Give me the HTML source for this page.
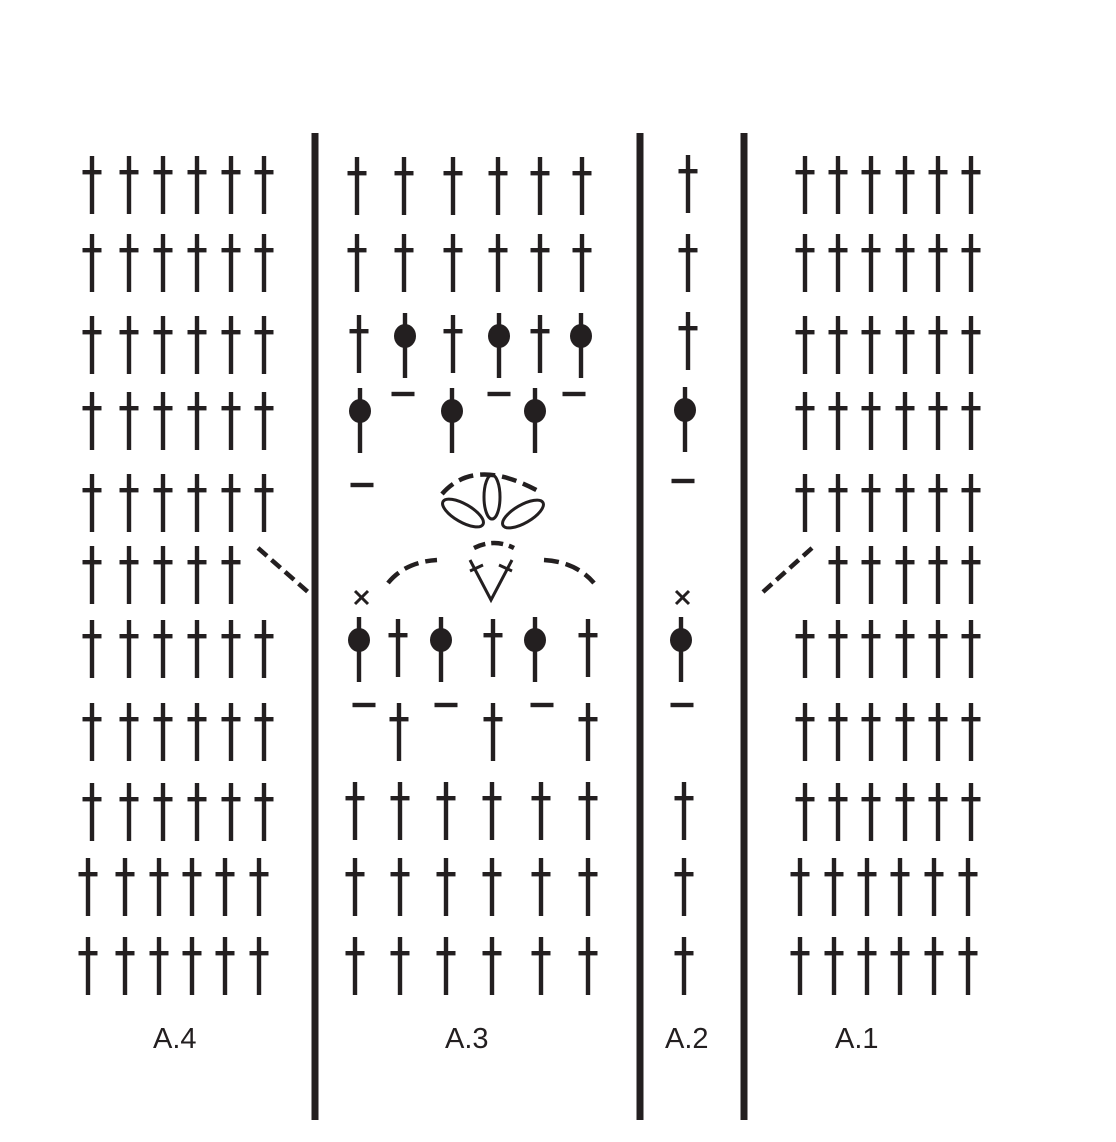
<!DOCTYPE html>
<html><head><meta charset="utf-8">
<style>
html,body{margin:0;padding:0;background:#fff;}
svg{display:block;}
text{font-family:"Liberation Sans",sans-serif;font-size:29px;fill:#231f20;}
</style></head>
<body>
<svg id="s" width="1116" height="1142" viewBox="0 0 1116 1142" xmlns="http://www.w3.org/2000/svg">
<g fill="#231f20" stroke="none" id="g"></g>
<g fill="none" stroke="#231f20" stroke-width="4.5" id="l">
<line x1="315" y1="133" x2="315" y2="1120" stroke-width="7"/>
<line x1="640" y1="133" x2="640" y2="1120" stroke-width="7"/>
<line x1="744" y1="133" x2="744" y2="1120" stroke-width="7"/>
<line x1="258" y1="548" x2="308" y2="592" stroke-dasharray="12,6"/>
<line x1="763" y1="592" x2="812" y2="548" stroke-dasharray="12,6"/>
<path d="M442,494 Q475,456 540,492" stroke-dasharray="15,7"/>
<ellipse cx="492" cy="497" rx="8" ry="22" stroke-width="3"/>
<ellipse cx="463" cy="513" rx="23" ry="9" transform="rotate(30 463 513)" stroke-width="3"/>
<ellipse cx="523" cy="514" rx="23" ry="9" transform="rotate(-30 523 514)" stroke-width="3"/>
<path d="M474,548 Q494,538 514,548" stroke-dasharray="12,6"/>
<path d="M388,583 Q405,562 437,560" stroke-dasharray="15,7"/>
<path d="M544,560 Q576,562 594,583" stroke-dasharray="15,7"/>
<path d="M470,560 L491,600 L512,560" stroke-width="3"/>
<line x1="470" y1="571" x2="483" y2="565" stroke-width="3"/>
<line x1="499" y1="565" x2="512" y2="571" stroke-width="3"/>
<line x1="355" y1="591" x2="368" y2="604" stroke-width="3"/>
<line x1="368" y1="591" x2="355" y2="604" stroke-width="3"/>
<line x1="676" y1="591" x2="689" y2="604" stroke-width="3"/>
<line x1="689" y1="591" x2="676" y2="604" stroke-width="3"/>
</g>
<text x="153" y="1048">A.4</text>
<text x="445" y="1048">A.3</text>
<text x="665" y="1048">A.2</text>
<text x="835" y="1048">A.1</text>
</svg>
<script>
var g=document.getElementById('g'),h='';
function D(x,t){h+='<rect x="'+(x-2.2)+'" y="'+t+'" width="4.4" height="58"/><rect x="'+(x-9.5)+'" y="'+(t+14)+'" width="19" height="4.4"/>';}
function B(x,t){h+='<rect x="'+(x-2.2)+'" y="'+t+'" width="4.4" height="65"/><ellipse cx="'+x+'" cy="'+(t+23)+'" rx="11" ry="12"/>';}
function M(x,y){h+='<rect x="'+(x-11.5)+'" y="'+(y-2.2)+'" width="23" height="4.4"/>';}
var a4=[92,129,163,197,231,264],a4b=[88,125,159,192,225,259];
var a1=[805,838,871,905,938,971],a1b=[800,834,867,900,934,968];
var rows=[156,234,316,392,474,546,620,703,783,858,937];
rows.forEach(function(t,i){
  var c4=i>=9?a4b:a4, c1=i>=9?a1b:a1;
  c4.forEach(function(x,j){ if(!(i==5&&j==5)) D(x,t); });
  c1.forEach(function(x,j){ if(!(i==5&&j==0)) D(x,t); });
});
[357,404,453,498,540,582].forEach(function(x){D(x,157);D(x,234);});
D(359,315);B(405,313);D(453,315);B(499,313);D(540,315);B(581,313);
M(403,394);M(499,394);M(574,394);
B(360,388);B(452,388);B(535,388);
M(362,485);
B(359,617);D(398,619);B(441,617);D(493,619);B(535,617);D(588,619);
M(364,705);M(446,705);M(542,705);
D(399,703);D(493,703);D(588,703);
[355,400,446,492,541,588].forEach(function(x){D(x,782);D(x,858);D(x,937);});
D(688,155);D(688,234);D(688,312);B(685,387);M(683,481);
B(681,617);M(682,705);D(684,782);D(684,858);D(684,937);
g.innerHTML=h;
</script>
</body></html>
